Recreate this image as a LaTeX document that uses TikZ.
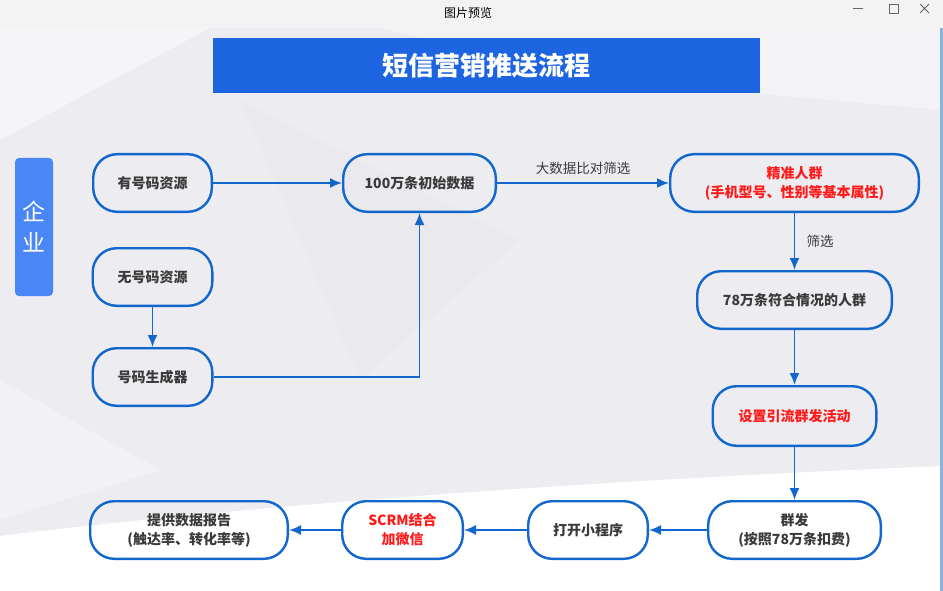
\documentclass[tikz,border=0pt]{standalone}
\usepackage{fontspec}
\setmainfont{Noto Sans CJK SC}
\usepackage{tikz}
\usetikzlibrary{arrows.meta, positioning}
\usepackage{xcolor}

\definecolor{flowblue}{HTML}{1167CC}
\definecolor{bannerblue}{HTML}{1D64E0}
\definecolor{sideblue}{HTML}{4A87F6}
\definecolor{txtgray}{HTML}{3A3A3A}
\definecolor{hotred}{HTML}{FF1A1A}
\definecolor{bggray}{HTML}{EDECF0}
\definecolor{bargray}{HTML}{F3F3F3}
\definecolor{edgeblue}{HTML}{8DB3DC}

\begin{document}
\begin{tikzpicture}[
        x=1pt, y=-1pt,
        stepbox/.style={rectangle, draw=flowblue, line width=2.4pt, rounded corners=24pt, minimum height=57.6pt, inner sep=0pt, align=center, font=\fontsize{14}{19}\selectfont\bfseries, text=txtgray},
        hot/.style={text=hotred},
        line/.style={draw=flowblue, line width=1.8pt, -{Latex[length=12pt, width=10pt]}},
        note/.style={font=\fontsize{13.5}{16}\selectfont, text=txtgray}
    ]
    \useasboundingbox (0,0) rectangle (943,591);

    % Background and window frame
    \fill[bggray] (0,28) rectangle (943,591);
    \fill[white, opacity=0.45] (0,28) -- (210,28) -- (0,140) -- cycle;
    \fill[white, opacity=0.35] (380,28) -- (943,28) -- (943,110) -- (600,80) -- cycle;
    \fill[white, opacity=0.3] (0,380) -- (160,470) -- (0,520) -- cycle;
    \fill[black, opacity=0.012] (240,100) -- (520,240) -- (360,380) -- cycle;
    \fill[white] (0,536) .. controls (250,505) and (600,480) .. (943,466) -- (943,591) -- (0,591) -- cycle;
    \fill[bargray] (0,0) rectangle (943,28);
    \fill[edgeblue] (940,28) rectangle (943,591);
    \node[font=\fontsize{12}{14}\selectfont, text=black] (wintitle) at (468,13) {图片预览};
    \draw[gray!80!black, line width=0.8pt] (853,8) -- (863,8);
    \draw[gray!80!black, line width=0.8pt] (889,4) rectangle (898,13);
    \draw[gray!80!black, line width=0.8pt] (920,4) -- (929,13) (929,4) -- (920,13);

    % Title and side label
    \node[fill=bannerblue, minimum width=547pt, minimum height=55pt, text=white, font=\fontsize{26}{28}\selectfont\bfseries] (banner) at (486.5,65.5) {短信营销推送流程};
    \node[fill=sideblue, rounded corners=4pt, minimum width=38pt, minimum height=138pt, inner sep=0pt, align=center, text=white, font=\fontsize{23}{31}\selectfont] (qiye) at (34,227) {企\\业};

    % Nodes - top row and left column
    \node[stepbox, minimum width=118.6pt] (youhao) at (152.5,183) {有号码资源};
    \node[stepbox, minimum width=152.6pt, right=129pt of youhao] (chushi) {100万条初始数据};
    \node[stepbox, minimum width=248.6pt, right=172pt of chushi, hot] (jingzhun) {精准人群\\(手机型号、性别等基本属性)};
    \node[stepbox, minimum width=119.6pt, below=34pt of youhao] (wuhao) {无号码资源};
    \node[stepbox, minimum width=119.6pt, below=40pt of wuhao] (shengcheng) {号码生成器};

    % Nodes - right column and bottom row
    \node[stepbox, minimum width=194.6pt, below=57pt of jingzhun] (fuhe) {78万条符合情况的人群};
    \node[stepbox, minimum width=163.6pt, minimum height=59.6pt, below=55pt of fuhe, hot] (shezhi) {设置引流群发活动};
    \node[stepbox, minimum width=172.6pt, below=53pt of shezhi] (qunfa) {群发\\(按照78万条扣费)};
    \node[stepbox, minimum width=119.6pt, left=58pt of qunfa] (dakai) {打开小程序};
    \node[stepbox, minimum width=120.6pt, left=63pt of dakai, hot] (scrm) {SCRM结合\\加微信};
    \node[stepbox, minimum width=197.6pt, left=52pt of scrm] (baogao) {提供数据报告\\(触达率、转化率等)};

    % Connections
    \path [line] (youhao) -- (chushi);
    \path [line] (chushi) -- node[note, above=4pt] (bidui) {大数据比对筛选} (jingzhun);
    \path [line] (jingzhun) -- node[note, right=8pt] (shaixuan) {筛选} (fuhe);
    \path [line] (fuhe) -- (shezhi);
    \path [line] (shezhi) -- (qunfa);
    \path [line] (qunfa) -- (dakai);
    \path [line] (dakai) -- (scrm);
    \path [line] (scrm) -- (baogao);
    \path [line] (wuhao) -- (shengcheng);
    \path [line] (shengcheng.east) -| (chushi.south);

\end{tikzpicture}
\end{document}
